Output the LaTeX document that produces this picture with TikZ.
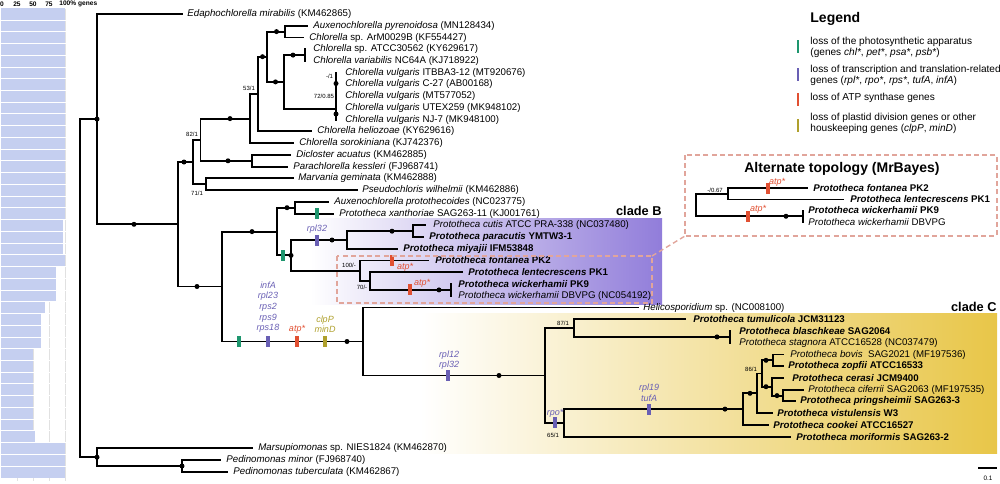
\documentclass[tikz,border=0pt]{standalone}
\usepackage{fontspec}
\setmainfont{Liberation Sans}
\usetikzlibrary{calc}
\definecolor{gtick}{RGB}{30,150,110}
\definecolor{ptick}{RGB}{105,95,180}
\definecolor{rtick}{RGB}{225,80,50}
\definecolor{otick}{RGB}{175,160,45}
\definecolor{barblue}{RGB}{197,207,240}
\definecolor{gridc}{RGB}{225,225,225}
\definecolor{cladeB}{RGB}{145,125,218}
\definecolor{cladeC}{RGB}{232,198,72}
\definecolor{pinkdash}{RGB}{225,165,155}
\tikzset{
  br/.style={line width=0.95pt, line cap=rect},
  ndot/.style={circle, fill=black, inner sep=0pt, minimum size=2.5pt},
  lab/.style={anchor=west, inner sep=0pt, font=\fontsize{4.85}{5.8}\selectfont},
  leglab/.style={anchor=west, inner sep=0pt, font=\fontsize{5.05}{6}\selectfont},
  suplab/.style={inner sep=0pt, font=\fontsize{3}{3.5}\selectfont},
  tk/.style={inner sep=0pt, minimum width=1.7pt, minimum height=5.5pt},
  gene/.style={inner sep=0pt, align=center, font=\fontsize{4.5}{5.3}\selectfont\itshape},
  hdr/.style={inner sep=0pt, font=\fontsize{3.3}{3.8}\selectfont\bfseries},
  pd/.style={draw=pinkdash, line width=0.7pt, dash pattern=on 2.5pt off 1.6pt},
  clade/.style={inner sep=0pt, font=\fontsize{6.4}{7}\selectfont\bfseries},
}
\begin{document}
\begin{tikzpicture}[x=0.5pt,y=-0.5pt]
\useasboundingbox (0,0) rectangle (1000,483);
% clade shadings
\shade[left color=white, right color=cladeB] (310,218) rectangle (662,304);
\shade[left color=white, right color=cladeC] (420,313) rectangle (997,453);
% bar chart
\foreach \g in {17,33,49,65} \draw[gridc, line width=0.3pt] (\g,9) -- (\g,481);
\foreach \i/\w in {1/64.5,2/64.5,3/64.5,4/64.5,5/64.5,6/64.5,7/64.5,8/64.5,9/64.5,10/64.5,11/64.5,12/64.5,13/64.5,14/64.5,15/64.5,16/64.5,17/64.5,18/64.5,19/63.3,20/63.3,21/63.3,22/65,23/56,24/56,25/56,26/44.5,27/41,28/41,29/41,30/32.5,31/32.5,32/32.5,33/32.5,34/32.5,35/32.5,36/32.5,37/35,38/64.5,39/64.5,40/64.5}
  \fill[barblue] (1,{8.1+(\i-1)*11.74}) rectangle (\w,{8.1+\i*11.74});
\foreach \i in {1,...,39} \draw[white, line width=0.3pt] (1,{8.1+\i*11.74}) -- (65.5,{8.1+\i*11.74});
\node[hdr] (h0) at (2,4) {0};
\node[hdr] (h25) at (17,4) {25};
\node[hdr] (h50) at (33,4) {50};
\node[hdr] (h75) at (49,4) {75};
\node[hdr, anchor=west] (h100) at (59,4) {100\% genes};

% ---------- tree coordinates ----------
\coordinate (root) at (80,288.2);
\coordinate (nA) at (97,119.1);
\coordinate (t1) at (182,14);
\coordinate (nB) at (178,224.3);
\coordinate (nC) at (193,162.0);
\coordinate (nD) at (200.5,139.7);
\coordinate (nE) at (250,118.6);
\coordinate (n258) at (258,94.1);
\coordinate (t12) at (293,143.1);
\coordinate (n270) at (267,56.7);
\coordinate (t11) at (311,131.4);
\coordinate (n285) at (285,31.6);
\coordinate (t2) at (307,25.7);
\coordinate (t3) at (303,37.5);
\coordinate (n284) at (284,81.9);
\coordinate (n305) at (305,55.1);
\coordinate (t4) at (305,49.2);
\coordinate (t5) at (305,61.0);
\coordinate (v4) at (336,108.7);
\coordinate (v3) at (336,97.6);
\coordinate (v2) at (336,87.4);
\coordinate (v1) at (336,78.6);
\coordinate (t6) at (336,72.7);
\coordinate (t7) at (336,84.4);
\coordinate (t8) at (336,96.2);
\coordinate (t9) at (336,107.9);
\coordinate (t10) at (336,119.7);
\coordinate (nDc) at (252,160.8);
\coordinate (t13) at (290,154.9);
\coordinate (t14) at (287,166.6);
\coordinate (nMv) at (206,184.2);
\coordinate (t15) at (293,178.4);
\coordinate (t16) at (357,190.1);
\coordinate (nG) at (222,286.5);
\coordinate (nH) at (277,231.6);
\coordinate (nI) at (295,207.7);
\coordinate (t17) at (328,201.8);
\coordinate (t18) at (333,213.6);
\coordinate (nJ) at (291,255.4);
\coordinate (nB2) at (347,240);
\coordinate (nCu) at (413,231.2);
\coordinate (t19) at (425,225.3);
\coordinate (t20) at (423,237.1);
\coordinate (t21) at (397,248.8);
\coordinate (nK) at (360,270.8);
\coordinate (t22) at (428,260.5);
\coordinate (nL) at (370,281.1);
\coordinate (t23) at (462,272.3);
\coordinate (nWk) at (451,289.9);
\coordinate (t24) at (451,284);
\coordinate (t25) at (451,295.8);
\coordinate (nM) at (363,341.5);
\coordinate (t26) at (638,307.5);
\coordinate (nN) at (545,375.5);
\coordinate (nO) at (574,328);
\coordinate (t27) at (685,319.2);
\coordinate (nBl) at (730,336.9);
\coordinate (t28) at (730,331);
\coordinate (t29) at (730,342.7);
\coordinate (nP) at (564,422.9);
\coordinate (nQ) at (743,409.1);
\coordinate (nR) at (757,393.3);
\coordinate (nS) at (762,373.5);
\coordinate (nT) at (773,360.3);
\coordinate (t30) at (783,354.5);
\coordinate (t31) at (783,366.2);
\coordinate (nU) at (772,386.7);
\coordinate (t32) at (783,377.9);
\coordinate (nV) at (783,395.6);
\coordinate (t33) at (803,389.7);
\coordinate (t34) at (795,401.4);
\coordinate (t35) at (772,413.2);
\coordinate (t36) at (768,424.9);
\coordinate (t37) at (790,436.6);
\coordinate (nW) at (97,457.2);
\coordinate (t38) at (252,448.4);
\coordinate (nX) at (182,466);
\coordinate (t39) at (220,460.1);
\coordinate (t40) at (227,471.9);

% ---------- branches ----------
\foreach \p/\c in {root/nA,root/nW,nA/t1,nA/nB,nB/nC,nB/nG,nC/nD,nC/nMv,nD/nE,nD/nDc,nE/n258,nE/t12,n258/n270,n258/t11,n270/n285,n270/n284,n285/t2,n285/t3,n284/n305,n284/v4,n305/t4,n305/t5,v4/v3,v4/t10,v3/v2,v3/t9,v2/v1,v2/t8,v1/t6,v1/t7,nDc/t13,nDc/t14,nMv/t15,nMv/t16,nG/nH,nG/nM,nH/nI,nH/nJ,nI/t17,nI/t18,nJ/nB2,nJ/nK,nB2/nCu,nB2/t21,nCu/t19,nCu/t20,nK/t22,nK/nL,nL/t23,nL/nWk,nWk/t24,nWk/t25,nM/t26,nM/nN,nN/nO,nN/nP,nO/t27,nO/nBl,nBl/t28,nBl/t29,nP/nQ,nP/t37,nQ/nR,nQ/t36,nR/nS,nR/t35,nS/nT,nS/nU,nT/t30,nT/t31,nU/t32,nU/nV,nV/t33,nV/t34,nW/t38,nW/nX,nX/t39,nX/t40}
  \draw[br] (\p) |- (\c);

% ---------- dots ----------
\foreach \x/\y [count=\k] in {97/119.1,134/224.3,184/162,197/286.5,230/118.6,262.5/56.7,276.5/31.6,275.5/81.9,293/55.1,336/83.5,336/114,228/160.8,252/231.6,287/207.7,291/255.4,332/240,392/231.2,439/289.9,347/341.5,499/375.5,717/336.9,725/409.1,750/393.3,766/360.3,766/386.7,777/395.6,97/457.2,182/466}
  \node[ndot] (dot\k) at (\x,\y) {};

% ---------- ticks ----------
\node[tk, fill=gtick] (k1) at (317,213.6) {};
\node[tk, fill=gtick] (k2) at (283,255.4) {};
\node[tk, fill=ptick] (k3) at (317,240) {};
\node[tk, fill=rtick] (k4) at (392,260.5) {};
\node[tk, fill=rtick] (k5) at (410,289.9) {};
\node[tk, fill=gtick] (k6) at (239,341.5) {};
\node[tk, fill=ptick] (k7) at (268,341.5) {};
\node[tk, fill=rtick] (k8) at (297,341.5) {};
\node[tk, fill=otick] (k9) at (325,341.5) {};
\node[tk, fill=ptick] (k10) at (448,375.5) {};
\node[tk, fill=ptick] (k11) at (555,422.9) {};
\node[tk, fill=ptick] (k12) at (649,409.1) {};

% ---------- gene labels ----------
\node[gene, ptick] (g1) at (317,229) {rpl32};
\node[gene, rtick] (g2) at (405,267) {atp*};
\node[gene, rtick] (g3) at (422,283.5) {atp*};
\node[gene, ptick, anchor=south] (g4) at (268,333) {infA\\rpl23\\rps2\\rps9\\rps18};
\node[gene, rtick] (g5) at (297,329) {atp*};
\node[gene, otick, anchor=south] (g6) at (325,333) {clpP\\minD};
\node[gene, ptick, anchor=south] (g7) at (449,370) {rpl12\\rpl32};
\node[gene, ptick] (g8) at (555,413) {rpo*};
\node[gene, ptick, anchor=south] (g9) at (649,402) {rpl19\\tufA};

% ---------- support labels ----------
\node[suplab] (s1) at (192,134) {82/1};
\node[suplab] (s2) at (197,193) {71/1};
\node[suplab] (s3) at (249,88) {53/1};
\node[suplab] (s4) at (329.5,76.5) {-/1};
\node[suplab] (s5) at (324,96) {72/0.85};
\node[suplab] (s6) at (349,265) {100/-};
\node[suplab] (s7) at (362,287) {70/-};
\node[suplab] (s8) at (563,323) {87/1};
\node[suplab] (s9) at (751,369) {86/1};
\node[suplab] (s10) at (553,435) {65/1};

% ---------- leaf labels ----------
\node[lab] (L1) at ($(t1)+(5,0)$) {\textit{Edaphochlorella mirabilis} (KM462865)};
\node[lab] (L2) at ($(t2)+(6,0)$) {\textit{Auxenochlorella pyrenoidosa} (MN128434)};
\node[lab] (L3) at ($(t3)+(6,0)$) {\textit{Chlorella} sp. ArM0029B (KF554427)};
\node[lab] (L4) at ($(t4)+(8,0)$) {\textit{Chlorella} sp. ATCC30562 (KY629617)};
\node[lab] (L5) at ($(t5)+(8,0)$) {\textit{Chlorella variabilis} NC64A (KJ718922)};
\node[lab] (L6) at ($(t6)+(9,0)$) {\textit{Chlorella vulgaris} ITBBA3-12 (MT920676)};
\node[lab] (L7) at ($(t7)+(9,0)$) {\textit{Chlorella vulgaris} C-27 (AB00168)};
\node[lab] (L8) at ($(t8)+(9,0)$) {\textit{Chlorella vulgaris} (MT577052)};
\node[lab] (L9) at ($(t9)+(9,0)$) {\textit{Chlorella vulgaris} UTEX259 (MK948102)};
\node[lab] (L10) at ($(t10)+(9,0)$) {\textit{Chlorella vulgaris} NJ-7 (MK948100)};
\node[lab] (L11) at ($(t11)+(6,0)$) {\textit{Chlorella heliozoae} (KY629616)};
\node[lab] (L12) at ($(t12)+(6,0)$) {\textit{Chlorella sorokiniana} (KJ742376)};
\node[lab] (L13) at ($(t13)+(6,0)$) {\textit{Dicloster acuatus} (KM462885)};
\node[lab] (L14) at ($(t14)+(6,0)$) {\textit{Parachlorella kessleri} (FJ968741)};
\node[lab] (L15) at ($(t15)+(5,0)$) {\textit{Marvania geminata} (KM462888)};
\node[lab] (L16) at ($(t16)+(5,0)$) {\textit{Pseudochloris wilhelmii} (KM462886)};
\node[lab] (L17) at ($(t17)+(6,0)$) {\textit{Auxenochlorella protothecoides} (NC023775)};
\node[lab] (L18) at ($(t18)+(6,0)$) {\textit{Prototheca xanthoriae} SAG263-11 (KJ001761)};
\node[lab] (L19) at ($(t19)+(8,0)$) {\textit{Prototheca cutis} ATCC PRA-338 (NC037480)};
\node[lab] (L20) at ($(t20)+(6,0)$) {\textbf{\textit{Prototheca paracutis} YMTW3-1}};
\node[lab] (L21) at ($(t21)+(6,0)$) {\textbf{\textit{Prototheca miyajii} IFM53848}};
\node[lab] (L22) at ($(t22)+(7,0)$) {\textbf{\textit{Prototheca fontanea} PK2}};
\node[lab] (L23) at ($(t23)+(6,0)$) {\textbf{\textit{Prototheca lentecrescens} PK1}};
\node[lab] (L24) at ($(t24)+(7,0)$) {\textbf{\textit{Prototheca wickerhamii} PK9}};
\node[lab] (L25) at ($(t25)+(7,0)$) {\textit{Prototheca wickerhamii} DBVPG (NC054192)};
\node[lab] (L26) at ($(t26)+(5,0)$) {\textit{Helicosporidium} sp. (NC008100)};
\node[lab] (L27) at ($(t27)+(8,0)$) {\textbf{\textit{Prototheca tumulicola} JCM31123}};
\node[lab] (L28) at ($(t28)+(9,0)$) {\textbf{\textit{Prototheca blaschkeae} SAG2064}};
\node[lab] (L29) at ($(t29)+(9,0)$) {\textit{Prototheca stagnora} ATCC16528 (NC037479)};
\node[lab] (L30) at ($(t30)+(7,0)$) {\textit{Prototheca bovis}\ \ SAG2021 (MF197536)};
\node[lab] (L31) at ($(t31)+(5,0)$) {\textbf{\textit{Prototheca zopfii}\ ATCC16533}};
\node[lab] (L32) at ($(t32)+(9,0)$) {\textbf{\textit{Prototheca cerasi}\ JCM9400}};
\node[lab] (L33) at ($(t33)+(5,0)$) {\textit{Prototheca ciferrii} SAG2063 (MF197535)};
\node[lab] (L34) at ($(t34)+(5,0)$) {\textbf{\textit{Prototheca pringsheimii} SAG263-3}};
\node[lab] (L35) at ($(t35)+(5,0)$) {\textbf{\textit{Prototheca vistulensis}\ W3}};
\node[lab] (L36) at ($(t36)+(5,0)$) {\textbf{\textit{Prototheca cookei}\ ATCC16527}};
\node[lab] (L37) at ($(t37)+(6,0)$) {\textbf{\textit{Prototheca moriformis}\ SAG263-2}};
\node[lab] (L38) at ($(t38)+(6,0)$) {\textit{Marsupiomonas} sp. NIES1824 (KM462870)};
\node[lab] (L39) at ($(t39)+(6,0)$) {\textit{Pedinomonas minor} (FJ968740)};
\node[lab] (L40) at ($(t40)+(6,0)$) {\textit{Pedinomonas tuberculata} (KM462867)};

% ---------- clade labels ----------
\node[clade, anchor=south east] (cB) at (662,216) {clade B};
\node[clade, anchor=south east] (cC) at (997,312) {clade C};

% ---------- alternate topology ----------
\coordinate (pbTL) at (337,256);
\coordinate (pbBR) at (652,303);
\coordinate (pbTR) at (652,256);
\coordinate (abTL) at (685,155);
\coordinate (abBR) at (997,236);
\coordinate (abBL) at (685,236);
\draw[pd] (pbTL) rectangle (pbBR);
\draw[pd] (abTL) rectangle (abBR);
\draw[pd] (pbTR) -- (abBL);
\node[inner sep=0pt, font=\fontsize{7}{8}\selectfont\bfseries] (atitle) at (842,169) {Alternate topology (MrBayes)};
\coordinate (aR) at (696,205);
\coordinate (aN1) at (728,193.75);
\coordinate (aT1) at (807,188);
\coordinate (aT2) at (843,199.5);
\coordinate (aW) at (803,216.25);
\coordinate (aT3) at (803,210.5);
\coordinate (aT4) at (803,222);
\foreach \p/\c in {aR/aN1,aR/aW,aN1/aT1,aN1/aT2,aW/aT3,aW/aT4}
  \draw[br] (\p) |- (\c);
\node[ndot] (adot) at (786,216.25) {};
\node[tk, fill=rtick] (ak1) at (768,188) {};
\node[tk, fill=rtick] (ak2) at (748,216.25) {};
\node[gene, rtick] (ag1) at (777,182) {atp*};
\node[gene, rtick] (ag2) at (758,209.5) {atp*};
\node[suplab] (as1) at (715,190) {-/0.67};
\node[lab] (aL1) at ($(aT1)+(6,0)$) {\textbf{\textit{Prototheca fontanea} PK2}};
\node[lab] (aL2) at ($(aT2)+(7,0)$) {\textbf{\textit{Prototheca lentecrescens} PK1}};
\node[lab] (aL3) at ($(aT3)+(5,0)$) {\textbf{\textit{Prototheca wickerhamii} PK9}};
\node[lab] (aL4) at ($(aT4)+(5,0)$) {\textit{Prototheca wickerhamii} DBVPG};

% ---------- legend ----------
\node[inner sep=0pt, anchor=west, font=\fontsize{7}{8}\selectfont\bfseries] (leg) at (810,19) {Legend};
\node[tk, fill=gtick, minimum height=6.5pt, minimum width=1.4pt] (lk1) at (798,46.5) {};
\node[tk, fill=ptick, minimum height=6.5pt, minimum width=1.4pt] (lk2) at (798,74) {};
\node[tk, fill=rtick, minimum height=6.5pt, minimum width=1.4pt] (lk3) at (798,99.5) {};
\node[tk, fill=otick, minimum height=6.5pt, minimum width=1.4pt] (lk4) at (798,125) {};
\node[leglab] (lt1) at (810,42) {loss of the photosynthetic apparatus};
\node[leglab] (lt2) at (810,53) {(genes \textit{chl*}, \textit{pet*}, \textit{psa*}, \textit{psb*})};
\node[leglab] (lt3) at (810,70) {loss of transcription and translation-related};
\node[leglab] (lt4) at (810,81) {genes (\textit{rpl*}, \textit{rpo*}, \textit{rps*}, \textit{tufA}, \textit{infA})};
\node[leglab] (lt5) at (810,98) {loss of ATP synthase genes};
\node[leglab] (lt6) at (810,118) {loss of plastid division genes or other};
\node[leglab] (lt7) at (810,129) {houskeeping genes (\textit{clpP}, \textit{minD})};

% ---------- scale bar ----------
\coordinate (sb1) at (978,468);
\coordinate (sb2) at (997,468);
\draw[line width=0.8pt] (sb1) -- (sb2);
\node[inner sep=0pt, font=\fontsize{3.2}{4}\selectfont] (sbl) at (988,478) {0.1};
\end{tikzpicture}
\end{document}
